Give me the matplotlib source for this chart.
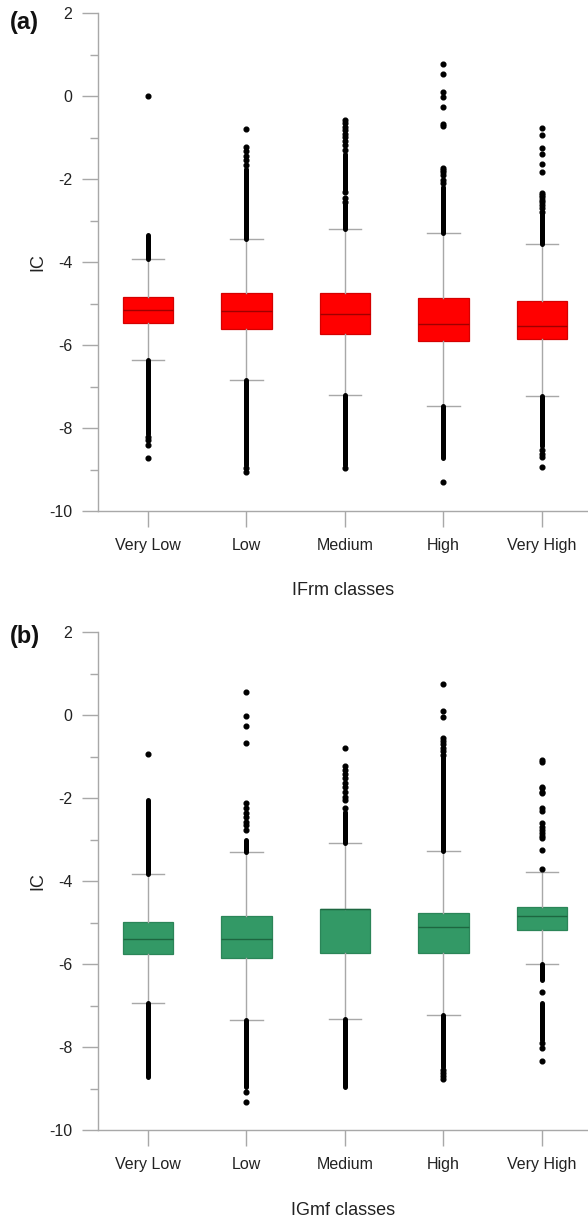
import matplotlib
matplotlib.use("Agg")
import matplotlib.pyplot as plt

plt.rcParams['font.family'] = ['Liberation Sans', 'DejaVu Sans']
plt.rcParams['axes.unicode_minus'] = False

categories = ["Very Low", "Low", "Medium", "High", "Very High"]

# ---- panel (a): IFrm classes ----
a_q1 = [-5.46, -5.60, -5.73, -5.90, -5.85]
a_med = [-5.16, -5.18, -5.25, -5.49, -5.53]
a_q3 = [-4.84, -4.75, -4.75, -4.87, -4.94]
a_whislo = [-6.37, -6.84, -7.20, -7.47, -7.23]
a_whishi = [-3.93, -3.45, -3.20, -3.30, -3.57]
a_fliers = [
    [0.0, -8.22, -8.30, -8.40, -8.72],
    [-0.78, -1.23, -1.33, -1.44, -1.53, -1.65, -8.97, -9.07],
    [-0.57, -0.65, -0.73, -0.82, -0.90, -0.98, -1.08, -1.18, -1.30,
     -2.32, -2.45, -2.55, -8.97],
    [0.77, 0.545, 0.10, -0.02, -0.25, -0.67, -0.72, -1.72, -1.78, -1.83,
     -1.90, -2.02, -2.08, -9.31],
    [-0.77, -0.93, -1.24, -1.40, -1.63, -1.82, -2.33, -2.38, -2.43, -2.50,
     -2.56, -2.62, -2.70, -2.78, -8.52, -8.62, -8.70, -8.93],
]
# dense runs of outliers (low, high)
a_dense = [
    [(-3.93, -3.34), (-8.15, -6.37)],
    [(-3.45, -1.75), (-8.88, -6.84)],
    [(-3.20, -2.60), (-2.25, -1.40), (-8.88, -7.20)],
    [(-3.30, -2.18), (-8.72, -7.47)],
    [(-3.57, -2.82), (-8.44, -7.23)],
]

# ---- panel (b): IGmf classes ----
b_q1 = [-5.76, -5.84, -5.73, -5.73, -5.17]
b_med = [-5.40, -5.40, -4.67, -5.11, -4.84]
b_q3 = [-4.99, -4.84, -4.67, -4.76, -4.61]
b_whislo = [-6.94, -7.34, -7.33, -7.23, -5.99]
b_whishi = [-3.83, -3.30, -3.07, -3.26, -3.78]
b_fliers = [
    [-0.93],
    [0.55, -0.02, -0.25, -0.67, -2.11, -2.24, -2.36, -2.46, -2.56, -2.64,
     -2.76, -9.07, -9.31],
    [-0.78, -1.22, -1.32, -1.41, -1.52, -1.64, -1.72, -1.84, -1.96, -2.04,
     -2.24],
    [0.75, 0.11, -0.03, -0.55, -0.62, -0.70, -0.78, -0.86, -0.95, -8.55,
     -8.62, -8.70, -8.77],
    [-1.08, -1.12, -1.72, -1.76, -1.84, -1.88, -2.23, -2.31, -2.60, -2.68,
     -2.76, -2.84, -2.91, -2.96, -3.25, -3.70, -6.66, -7.90, -8.02, -8.33],
]
b_dense = [
    [(-3.83, -2.04), (-8.71, -6.94)],
    [(-3.30, -3.00), (-8.95, -7.34)],
    [(-3.07, -2.32), (-8.95, -7.33)],
    [(-3.26, -1.00), (-8.47, -7.23)],
    [(-6.38, -5.99), (-7.82, -6.94)],
]

W, H = 588, 1218
fig = plt.figure(figsize=(W / 100, H / 100), dpi=100)

GRAY = "#a8a8a8"


def make_panel(rect, q1, med, q3, wlo, whi, fliers, dense, face, edge, medc,
               xlabel, tag, tag_y):
    ax = fig.add_axes(rect)
    pos = list(range(len(categories)))
    stats = []
    for i in pos:
        stats.append(dict(q1=q1[i], med=med[i], q3=q3[i], whislo=wlo[i],
                          whishi=whi[i], fliers=fliers[i], label=categories[i]))
    # dense outlier runs
    for i in pos:
        for lo, hi in dense[i]:
            ax.vlines(i, lo, hi, colors="black", linewidth=3.6,
                      capstyle="round", zorder=3)
    ax.bxp(stats, positions=pos, widths=0.51, patch_artist=True,
           showfliers=True,
           boxprops=dict(facecolor=face, edgecolor=edge, linewidth=0.9),
           medianprops=dict(color=medc, linewidth=1.0),
           whiskerprops=dict(color=GRAY, linewidth=1.0),
           capprops=dict(color=GRAY, linewidth=1.0),
           capwidths=0.33,
           flierprops=dict(marker="o", markerfacecolor="black",
                           markeredgecolor="black", markersize=3.4,
                           linestyle="none"))
    ax.set_xlim(-0.5076, 4.467)
    ax.set_ylim(-10, 2)
    ax.set_yticks([-10, -8, -6, -4, -2, 0, 2])
    ax.set_yticks([-9, -7, -5, -3, -1, 1], minor=True)
    ax.set_xticks(pos)
    ax.set_xticklabels(categories)
    for s in ["top", "right"]:
        ax.spines[s].set_visible(False)
    for s in ["left", "bottom"]:
        ax.spines[s].set_color(GRAY)
        ax.spines[s].set_linewidth(1.0)
    ax.tick_params(axis="y", which="major", length=11.5, width=1.0,
                   color=GRAY, labelsize=11.5, pad=7, labelcolor="#222222")
    ax.tick_params(axis="y", which="minor", length=5.8, width=1.0,
                   color=GRAY)
    ax.tick_params(axis="x", which="major", length=11.5, width=1.0,
                   color=GRAY, labelsize=11.5, pad=8, labelcolor="#222222")
    ax.set_ylabel("IC", fontsize=13, color="#222222", labelpad=2)
    ax.set_xlabel(xlabel, fontsize=13, color="#222222", labelpad=21)
    fig.text(10 / W, 1 - tag_y / H, tag, fontsize=17, fontweight="bold",
             ha="left", va="center", color="#111111")
    return ax


top_rect = [98 / W, 1 - 511 / H, (588 - 98) / W, (511 - 13.3) / H]
bot_rect = [98 / W, 1 - 1130.3 / H, (588 - 98) / W, (1130.3 - 632.3) / H]

make_panel(top_rect, a_q1, a_med, a_q3, a_whislo, a_whishi, a_fliers,
           a_dense, "#ff0000", "#d40000", "#a00000", "IFrm classes", "(a)", 22)
make_panel(bot_rect, b_q1, b_med, b_q3, b_whislo, b_whishi, b_fliers,
           b_dense, "#339966", "#2b8558", "#1d6640", "IGmf classes", "(b)", 636)

fig.savefig("out.png", dpi=100)
